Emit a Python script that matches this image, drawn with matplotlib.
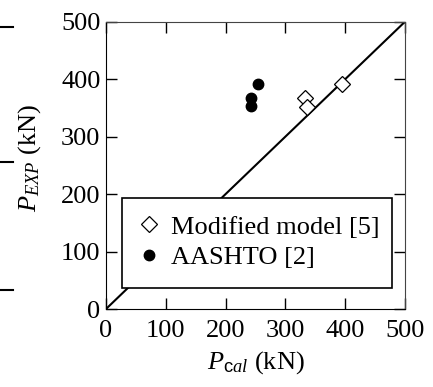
import matplotlib
matplotlib.use("Agg")
import matplotlib.pyplot as plt
from matplotlib.lines import Line2D
from matplotlib.patches import Rectangle

plt.rcParams['font.family'] = ['Liberation Serif', 'DejaVu Serif']
plt.rcParams['mathtext.fontset'] = 'custom'
plt.rcParams['mathtext.rm'] = 'Liberation Serif'
plt.rcParams['mathtext.it'] = 'Liberation Serif:italic'
plt.rcParams['mathtext.sf'] = 'Liberation Sans'

# data (kN)
mod_cal = [333, 336, 394]
mod_exp = [368, 351, 392]
aashto_cal = [242, 242, 255]
aashto_exp = [353, 368, 392]
ticks = [0, 100, 200, 300, 400, 500]

fig = plt.figure(figsize=(4.33, 3.87), dpi=100)
ax = fig.add_axes([106 / 433, 1 - 309 / 387, 299 / 433, 287.3 / 387])

ax.plot([0, 500], [0, 500], color='black', lw=1.5, zorder=1)
ax.plot(mod_cal, mod_exp, linestyle='none', marker='D', markersize=8,
        markerfacecolor='white', markeredgecolor='black', markeredgewidth=0.9,
        label='Modified model [5]', zorder=3)
ax.plot(aashto_cal, aashto_exp, linestyle='none', marker='o', markersize=7.5,
        color='black', label='AASHTO [2]', zorder=3)

ax.set_xlim(0, 500)
ax.set_ylim(0, 500)
ax.set_xticks(ticks)
ax.set_yticks(ticks)
ax.tick_params(direction='in', length=8, width=1, labelsize=19,
               top=True, right=True)
ax.tick_params(axis='x', pad=8)
ax.tick_params(axis='y', pad=4)
for side in ['top', 'right']:
    ax.spines[side].set_color('#444444')
for side in ['left', 'bottom']:
    ax.spines[side].set_color('black')

ax.set_xlabel(r'$P_{\mathsf{c}\mathit{al}}$ (kN)', fontsize=19, labelpad=5)
ax.set_ylabel(r'$P_{EXP}$ (kN)', fontsize=19)
ax.yaxis.set_label_coords(-0.211, 0.526)

# legend box (white, hides the diagonal behind it)
box = Rectangle((0.0525, 0.074), 0.9025, 0.311, transform=ax.transAxes,
                facecolor='white', edgecolor='black', lw=1.2, zorder=2)
ax.add_patch(box)
leg = ax.legend(loc='upper left', bbox_to_anchor=(0.0936, 0.327),
                fontsize=19, frameon=False, handlelength=1.17,
                handletextpad=0.25, borderaxespad=0, labelspacing=0.26,
                borderpad=0)
leg.set_zorder(2.5)

# stray dashes at the left edge of the original crop
for yp in [27, 162, 290]:
    fig.add_artist(Line2D([0, 13 / 433], [1 - yp / 387, 1 - yp / 387],
                          transform=fig.transFigure, color='black', lw=1.5))

fig.savefig('out.png', dpi=100)
